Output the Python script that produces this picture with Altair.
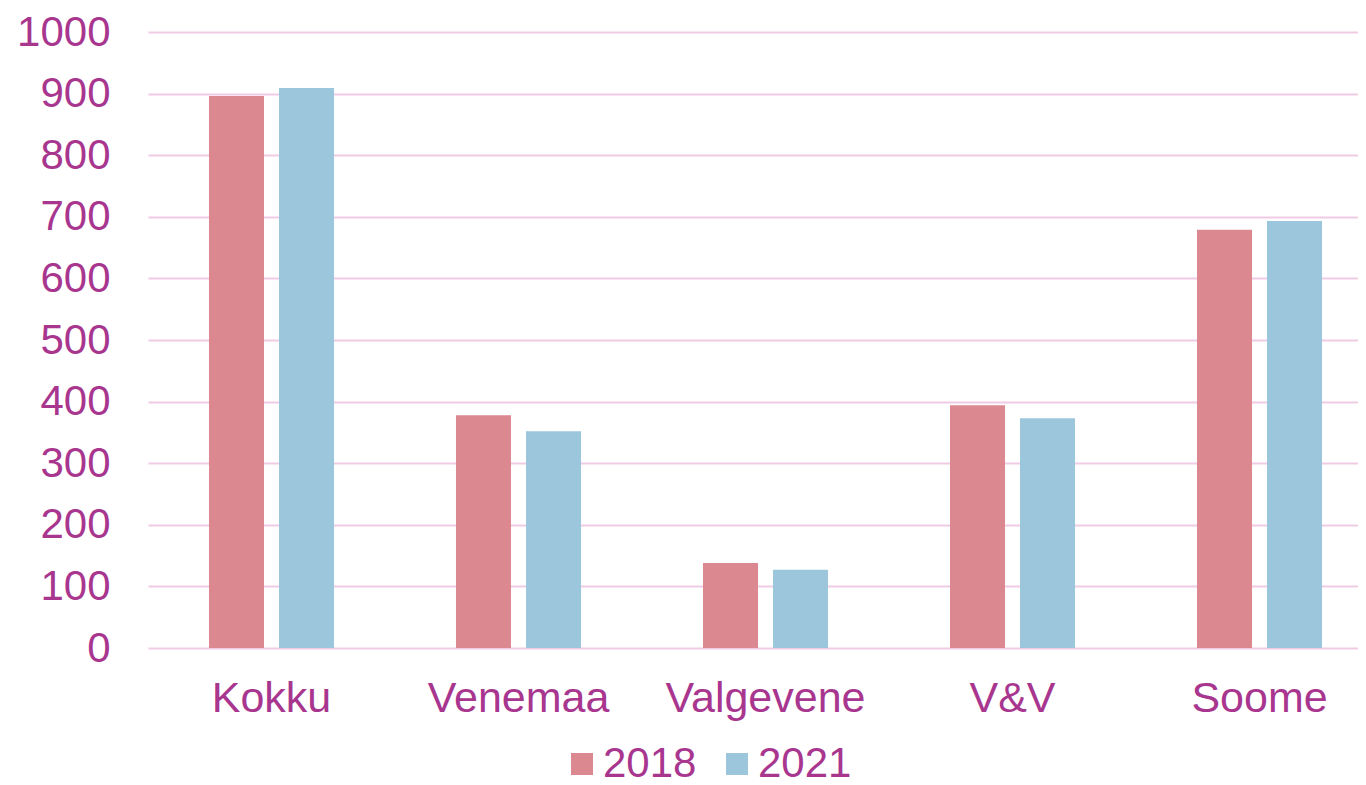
import altair as alt
import pandas as pd

categories = ["Kokku", "Venemaa", "Valgevene", "V&V", "Soome"]
years = ["2018", "2021"]
values_2018 = [896, 378, 138, 394, 679]
values_2021 = [909, 352, 127, 373, 693]
y_ticks = [0, 100, 200, 300, 400, 500, 600, 700, 800, 900, 1000]

rows = []
for c, a, b in zip(categories, values_2018, values_2021):
    rows.append({"kategooria": c, "aasta": "2018", "väärtus": a})
    rows.append({"kategooria": c, "aasta": "2021", "väärtus": b})
df = pd.DataFrame(rows)

TEXT = "#A8368F"
GRID = "#F0CBE6"
FONT = "Liberation Sans"

chart = alt.Chart(df).mark_bar().encode(
    x=alt.X("kategooria:N", sort=categories, title=None,
            scale=alt.Scale(paddingInner=0, paddingOuter=0, range=[0, 1235]),
            axis=alt.Axis(labelAngle=0, labelFontSize=43, labelColor=TEXT, labelFont=FONT,
                          labelLimit=0, domain=False, ticks=False, labelPadding=29, grid=False)),
    xOffset=alt.XOffset("aasta:N", sort=years,
                        scale=alt.Scale(paddingInner=0.214, paddingOuter=0.871)),
    y=alt.Y("väärtus:Q", title=None,
            scale=alt.Scale(domain=[0, 1000], nice=False),
            axis=alt.Axis(values=y_ticks, format="d", labelFontSize=42, labelColor=TEXT,
                          labelFont=FONT, domain=False, ticks=False, labelPadding=38,
                          gridColor=GRID, gridWidth=2, gridOpacity=1)),
    color=alt.Color("aasta:N", sort=years,
                    scale=alt.Scale(domain=years, range=["#DB8891", "#9BC6DC"]),
                    legend=alt.Legend(title=None, orient="none", direction="horizontal",
                                      legendX=413, legendY=711, symbolType="square",
                                      symbolSize=484, symbolStrokeWidth=0,
                                      labelFontSize=42, labelColor=TEXT, labelFont=FONT,
                                      labelOffset=0, columnPadding=19, padding=0)),
).properties(
    width=1210, height=616,
    autosize=alt.AutoSizeParams(type="none"),
    padding={"left": 140, "top": 24, "right": 0, "bottom": 138},
).configure_view(stroke=None)

chart.save("out.html", embed_options={"renderer": "svg", "actions": False})
